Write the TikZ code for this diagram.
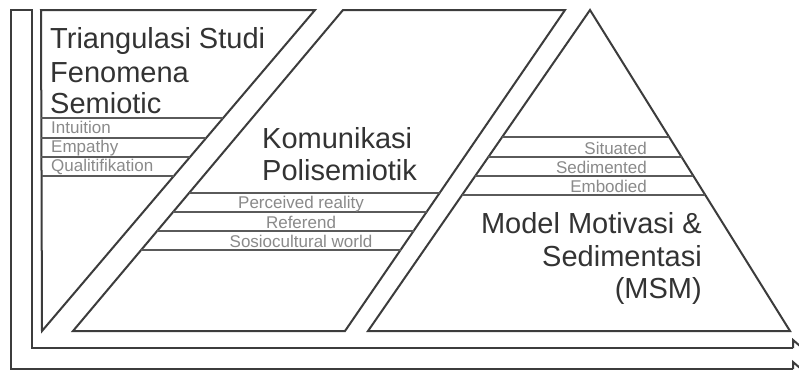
\documentclass[tikz,border=0pt]{standalone}
\usepackage{fontspec}
\setmainfont{Liberation Sans}
\usetikzlibrary{calc}
\definecolor{outl}{HTML}{3C3C3C}
\definecolor{stripl}{HTML}{5A5A5A}
\definecolor{titlec}{HTML}{333333}
\definecolor{subc}{HTML}{8A8A8A}
\tikzset{
  outline/.style={draw=outl, line width=2pt, line join=miter},
  stripline/.style={draw=stripl, line width=1.2pt},
  titletext/.style={text=titlec, inner sep=0pt, font=\fontsize{29}{33}\selectfont},
  subtext/.style={text=subc, inner sep=0pt, font=\fontsize{17}{20}\selectfont},
}
\begin{document}
\begin{tikzpicture}[x=1pt,y=-1pt]
\clip (0,0) rectangle (799,378);
\fill[white] (0,0) rectangle (799,378);

% outer L band with arrow
\coordinate (b1) at (32,348);
\coordinate (b2) at (32,10);
\coordinate (b3) at (11,10);
\coordinate (b4) at (11,369);
\coordinate (b5) at (793,369);
\coordinate (b6) at (793,348);
\draw[outline] (b6) -- (b1) -- (b2) -- (b3) -- (b4) -- (b5);
\draw[outline] (b6) -- ++(0,-8) -- ++(14,12);
\draw[outline] (b5) -- ++(0,-7) -- ++(14,12);

% left triangle
\coordinate (A1) at (41,10);
\coordinate (A2) at (315,10);
\coordinate (A3) at (42,331);
\draw[outline] (A1) -- (A2) -- (A3) -- cycle;
\foreach \yy in {118,138,157,176}{
  \draw[stripline] ($(A1)!{(\yy-10)/321}!(A3)$) -- ($(A2)!{(\yy-10)/321}!(A3)$);
}
\node[titletext, anchor=base west] (t1) at (50,48) {Triangulasi Studi};
\node[titletext, anchor=base west] (t2) at (50,82) {Fenomena};
\node[titletext, anchor=base west] (t3) at (50,113) {Semiotic};
\node[subtext, anchor=base west] (s1) at (51,133) {Intuition};
\node[subtext, anchor=base west] (s2) at (51,152) {Empathy};
\node[subtext, anchor=base west] (s3) at (51,171) {Qualitifikation};

% parallelogram
\coordinate (P1) at (343,10);
\coordinate (P2) at (565,10);
\coordinate (P3) at (345,331);
\coordinate (P4) at (73,331);
\draw[outline] (P1) -- (P2) -- (P3) -- (P4) -- cycle;
\foreach \yy in {193,212,231,250}{
  \draw[stripline] ($(P1)!{(\yy-10)/321}!(P4)$) -- ($(P2)!{(\yy-10)/321}!(P3)$);
}
\node[titletext, anchor=base west] (k1) at (262,148) {Komunikasi};
\node[titletext, anchor=base west] (k2) at (262,180) {Polisemiotik};
\node[subtext, anchor=base] (p1) at (301,208) {Perceived reality};
\node[subtext, anchor=base] (p2) at (301,228) {Referend};
\node[subtext, anchor=base] (p3) at (301,247) {Sosiocultural world};

% pyramid
\coordinate (T1) at (590,10);
\coordinate (T2) at (790,331);
\coordinate (T3) at (368,331);
\draw[outline] (T1) -- (T2) -- (T3) -- cycle;
\foreach \yy in {137,157,176,195}{
  \draw[stripline] ($(T1)!{(\yy-10)/321}!(T3)$) -- ($(T1)!{(\yy-10)/321}!(T2)$);
}
\node[subtext, anchor=base east] (m1) at (647,154) {Situated};
\node[subtext, anchor=base east] (m2) at (647,173) {Sedimented};
\node[subtext, anchor=base east] (m3) at (647,192) {Embodied};
\node[titletext, anchor=base east] (q1) at (702,233) {Model Motivasi \&};
\node[titletext, anchor=base east] (q2) at (702,266) {Sedimentasi};
\node[titletext, anchor=base east] (q3) at (702,298) {(MSM)};
\end{tikzpicture}
\end{document}
